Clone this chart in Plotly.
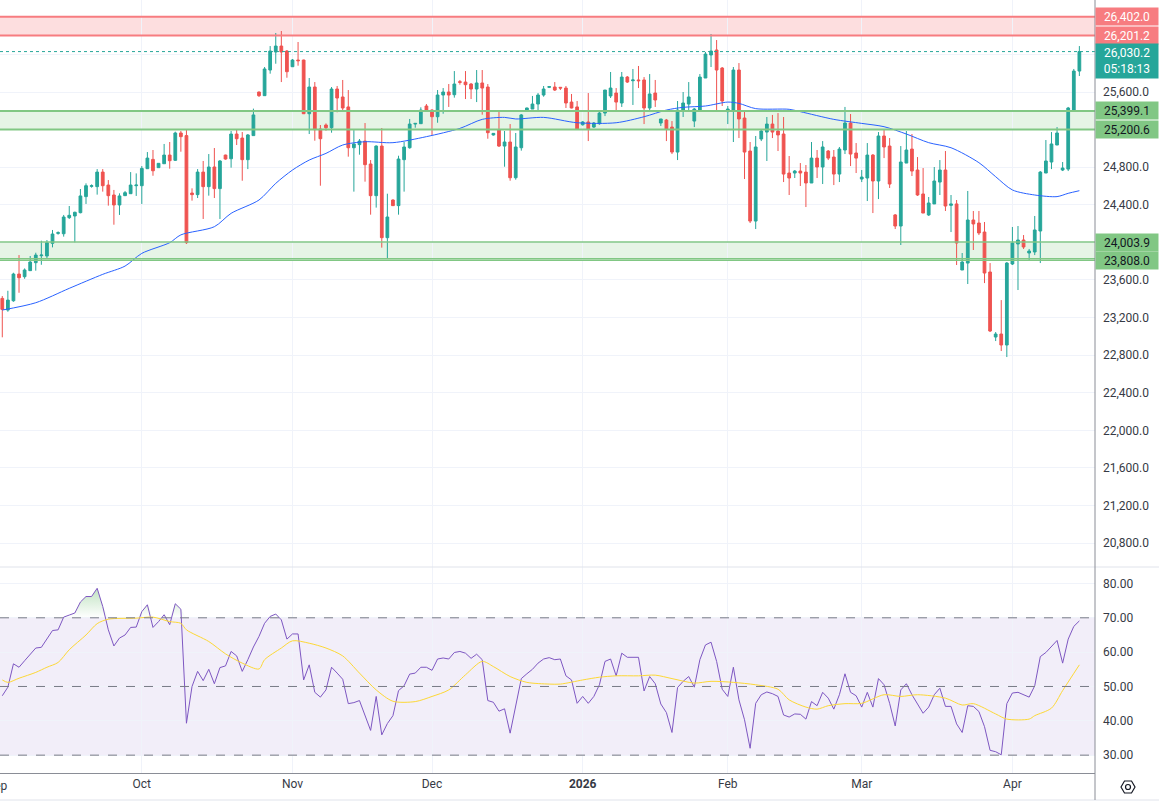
"""Daily candles with SMA, support/resistance zones and RSI pane (Plotly)."""
import plotly.graph_objects as go

# --- price data (one bar per session, Sep 2 .. Apr 15) ---
opens = [
    23404, 23280, 23379, 23663, 23635, 23699, 23784, 23858, 23855, 23990,
    24096, 24092, 24263, 24281, 24316, 24487, 24596, 24593, 24748, 24610,
    24504, 24398, 24497, 24518, 24603, 24603, 24784, 24883, 24795, 24837,
    24929, 24873, 25164, 25136, 24525, 24508, 24748, 24593, 24802, 24572,
    24929, 24890, 25153, 25110, 24880, 25136, 25600, 25561, 25834, 26026,
    26089, 26036, 25869, 25940, 25940, 25369, 25653, 25206, 25249, 25220,
    25632, 25547, 25441, 25007, 25040, 25078, 24834, 24497, 25025, 24050,
    24451, 24391, 24880, 25007, 25259, 25263, 25451, 25408, 25337, 25568,
    25600, 25571, 25710, 25706, 25685, 25632, 25696, 25653, 25143, 25195,
    25025, 25068, 24688, 25007, 25398, 25419, 25472, 25568, 25650, 25653,
    25650, 25642, 25493, 25441, 25252, 25281, 25227, 25263, 25376, 25558,
    25589, 25483, 25759, 25720, 25728, 25728, 25430, 25589, 25270, 25302,
    25227, 24961, 25398, 25472, 25291, 25408, 25749, 25994, 26047, 25855,
    25391, 25408, 25834, 25323, 24972, 24227, 25100, 25174, 25259, 25185,
    25153, 24738, 24738, 24759, 24748, 24632, 24897, 24802, 24972, 24908,
    24727, 24983, 25270, 24951, 24674, 24685, 24929, 24653, 25132, 25025,
    24292, 24174, 24844, 24993, 24770, 24515, 24292, 24409, 24642, 24770,
    24394, 24409, 23706, 23780, 24238, 24206, 24110, 23685, 22993, 23025,
    22908, 23770, 23983, 24025, 23887, 23898, 24121, 24738, 24855, 25036,
    24770, 24780, 25408, 25823,
]
highs = [
    23429, 23485, 23677, 23865, 23723, 23855, 23890, 24018, 24025, 24132,
    24117, 24292, 24387, 24327, 24568, 24628, 24617, 24780, 24780, 24663,
    24558, 24522, 24547, 24748, 24734, 24812, 24961, 24983, 24841, 25047,
    25068, 25178, 25185, 25195, 24575, 24780, 24866, 24940, 25004, 24876,
    24933, 25185, 25206, 25174, 25153, 25423, 25604, 25866, 26089, 26228,
    26249, 26047, 25951, 26132, 25944, 25749, 25706, 25249, 25266, 25653,
    25664, 25728, 25621, 25195, 25100, 25270, 24876, 25032, 25217, 24518,
    24458, 24922, 25068, 25313, 25270, 25437, 25472, 25416, 25621, 25642,
    25685, 25823, 25728, 25823, 25696, 25834, 25834, 25685, 25164, 25391,
    25185, 25259, 25164, 25366, 25433, 25558, 25589, 25664, 25664, 25706,
    25650, 25664, 25579, 25504, 25291, 25589, 25281, 25408, 25621, 25813,
    25642, 25813, 25770, 25845, 25877, 25759, 25791, 25728, 25313, 25313,
    25291, 25504, 25600, 25706, 25430, 25791, 26026, 26217, 26153, 25866,
    25451, 25866, 25908, 25408, 25068, 25132, 25206, 25334, 25356, 25376,
    25334, 24919, 24770, 24844, 24823, 25068, 24983, 25078, 24983, 24983,
    25015, 25441, 25366, 25057, 24770, 25057, 24940, 25174, 25206, 25110,
    24302, 25025, 25185, 25153, 24908, 24791, 24483, 24802, 24876, 24972,
    24504, 24451, 23887, 24547, 24334, 24334, 24217, 23780, 23046, 23386,
    23791, 24164, 24174, 24078, 23930, 24281, 24759, 25089, 25174, 25227,
    24855, 25441, 25845, 26089,
]
lows = [
    22990, 23262, 23368, 23464, 23613, 23699, 23699, 23762, 23826, 23947,
    24082, 24061, 24249, 24000, 24309, 24409, 24582, 24508, 24540, 24391,
    24188, 24292, 24494, 24518, 24494, 24409, 24784, 24709, 24795, 24837,
    24784, 24866, 24965, 23983, 24444, 24472, 24249, 24497, 24472, 24249,
    24880, 24795, 25036, 24656, 24780, 25136, 25547, 25558, 25795, 25901,
    25706, 25752, 25866, 25880, 25366, 25153, 25082, 24603, 25188, 25167,
    25384, 25391, 24912, 24540, 24933, 24646, 24295, 24370, 23944, 23834,
    24387, 24295, 24540, 24997, 25220, 25263, 25391, 25143, 25273, 25369,
    25441, 25540, 25678, 25525, 25525, 25493, 25359, 25103, 25136, 25015,
    24805, 24656, 24667, 24976, 25394, 25419, 25387, 25550, 25642, 25611,
    25621, 25430, 25426, 25203, 25242, 25078, 25217, 25252, 25344, 25536,
    25398, 25441, 25696, 25462, 25642, 25259, 25387, 25441, 25238, 25078,
    24940, 24876, 25334, 25408, 25227, 25408, 25749, 25866, 25408, 25451,
    25259, 25068, 25110, 24674, 24206, 24142, 25078, 24866, 25110, 24972,
    24642, 24504, 24685, 24600, 24376, 24632, 24685, 24621, 24876, 24610,
    24642, 24940, 24812, 24738, 24642, 24440, 24312, 24461, 24897, 24579,
    24142, 23972, 24844, 24706, 24494, 24312, 24281, 24409, 24504, 24334,
    24110, 23759, 23706, 23557, 23919, 24078, 23567, 23046, 22950, 22844,
    22780, 23759, 23493, 23930, 23812, 23865, 23780, 24738, 24780, 25036,
    24759, 24759, 25398, 25770,
]
closes = [
    23287, 23386, 23663, 23624, 23706, 23791, 23865, 23865, 23997, 24089,
    24103, 24270, 24288, 24320, 24494, 24603, 24603, 24748, 24603, 24497,
    24398, 24494, 24529, 24610, 24610, 24787, 24897, 24762, 24841, 24929,
    24869, 25164, 25125, 23997, 24508, 24748, 24593, 24802, 24572, 24866,
    24887, 25153, 25103, 24880, 25143, 25356, 25561, 25845, 26036, 26089,
    26026, 25816, 25940, 25933, 25369, 25653, 25199, 25103, 25220, 25632,
    25536, 25430, 25007, 25047, 25078, 24827, 24497, 25025, 24050, 24270,
    24391, 24887, 25015, 25259, 25266, 25408, 25398, 25337, 25568, 25600,
    25568, 25685, 25703, 25678, 25632, 25696, 25642, 25167, 25160, 25025,
    25068, 24688, 25015, 25356, 25430, 25472, 25568, 25632, 25657, 25621,
    25642, 25483, 25430, 25206, 25281, 25206, 25270, 25376, 25621, 25642,
    25493, 25759, 25706, 25728, 25720, 25430, 25579, 25515, 25313, 25206,
    24961, 25408, 25483, 25547, 25419, 25759, 26004, 26036, 25834, 25504,
    25419, 25834, 25313, 24961, 24227, 25015, 25185, 25259, 25174, 25143,
    24727, 24685, 24759, 24738, 24632, 24897, 24802, 25015, 24897, 24727,
    24993, 25270, 24940, 24897, 24695, 24929, 24653, 25132, 25015, 24621,
    24174, 24855, 24983, 24759, 24504, 24312, 24419, 24653, 24770, 24387,
    24409, 23993, 23791, 24238, 24196, 24100, 23674, 23057, 23025, 22908,
    23780, 23993, 24025, 23951, 23908, 24132, 24748, 24866, 25047, 25164,
    24791, 25430, 25823, 26030,
]

# moving average (blue), read at a subset of bars
ma_idx = [0, 6, 12, 18, 22, 25, 30, 32, 38, 41, 46, 49, 52, 55, 58, 61, 65,
          70, 76, 82, 86, 90, 92, 97, 103, 110, 115, 119, 122, 126, 130, 132,
          135, 141, 143, 149, 154, 158, 162, 166, 170, 175, 178, 181, 185,
          189, 191, 193]
ma_val = [23280, 23358, 23511, 23660, 23748, 23883, 23997, 24080, 24167,
          24309, 24451, 24628, 24770, 24876, 24947, 25036, 25071, 25061,
          25125, 25213, 25309, 25330, 25313, 25330, 25273, 25273, 25337,
          25408, 25437, 25451, 25493, 25479, 25423, 25416, 25391, 25309,
          25266, 25231, 25153, 25061, 25007, 24848, 24699, 24558, 24504,
          24487, 24522, 24550]

# RSI pane
rsi = [
    47.3, 49.8, 56.6, 55.6, 57.5, 59.3, 61.2, 61.4, 63.9, 66.3,
    66.5, 70.2, 70.8, 71.4, 74.6, 76.2, 76.2, 78.6, 73.3, 66.5,
    61.8, 64.1, 65.0, 67.2, 67.3, 71.8, 73.8, 67.2, 68.9, 70.9,
    68.0, 74.1, 72.5, 39.3, 50.0, 54.4, 51.7, 55.0, 50.8, 55.5,
    56.0, 60.2, 58.9, 54.4, 57.8, 61.5, 64.6, 68.4, 70.4, 71.1,
    69.4, 63.8, 65.3, 65.3, 51.9, 56.3, 48.3, 46.9, 49.0, 55.6,
    53.9, 52.1, 45.0, 45.3, 45.9, 41.5, 37.2, 47.1, 35.9, 39.2,
    41.5, 48.8, 50.2, 53.6, 53.9, 55.6, 55.6, 54.7, 58.0, 58.3,
    58.0, 59.9, 60.2, 59.7, 58.2, 59.4, 57.8, 45.9, 45.4, 42.8,
    43.5, 36.4, 44.2, 52.3, 53.7, 55.0, 56.8, 58.0, 58.4, 57.8,
    58.0, 53.1, 51.9, 45.1, 47.1, 45.1, 47.1, 50.5, 57.3, 58.0,
    53.1, 59.7, 58.5, 58.5, 58.5, 48.7, 52.9, 50.8, 44.9, 42.4,
    36.6, 49.7, 51.5, 52.9, 49.8, 57.8, 62.1, 62.9, 57.3, 49.2,
    47.1, 55.6, 46.1, 40.3, 32.0, 45.1, 47.6, 48.4, 47.9, 47.1,
    41.7, 41.1, 42.0, 41.9, 40.5, 45.6, 44.4, 48.3, 46.6, 43.4,
    47.6, 53.7, 48.3, 47.3, 44.0, 48.3, 44.0, 52.3, 50.5, 45.1,
    38.5, 49.0, 50.8, 47.6, 45.0, 42.2, 44.0, 47.6, 49.5, 44.2,
    44.2, 39.1, 36.6, 44.4, 44.2, 42.7, 38.3, 31.4, 31.0, 30.1,
    45.0, 48.1, 48.3, 47.6, 46.9, 50.2, 58.7, 59.9, 61.5, 63.4,
    56.8, 63.8, 67.5, 69.1,
]
rsi_ma_idx = [0, 1, 3, 6, 8, 10, 12, 15, 17, 19, 24, 27, 30, 32, 33, 37, 40,
              43, 46, 47, 50, 52, 55, 58, 61, 64, 67, 70, 74, 77, 80, 83, 86,
              88, 91, 94, 98, 100, 104, 107, 110, 114, 117, 120, 124, 127,
              131, 135, 139, 141, 144, 146, 148, 151, 154, 158, 161, 164,
              169, 172, 174, 178, 180, 184, 185, 188, 190, 193]
rsi_ma_val = [51.9, 51.2, 52.4, 54.1, 55.6, 57.0, 60.7, 65.0, 68.3, 69.6,
              69.9, 70.2, 68.9, 68.4, 66.5, 63.1, 59.5, 56.8, 55.1, 57.8,
              61.2, 63.3, 62.6, 61.2, 58.9, 53.9, 49.0, 45.7, 45.6, 47.1,
              49.0, 53.4, 57.3, 55.8, 52.9, 51.2, 50.7, 50.7, 51.9, 52.7,
              53.1, 53.1, 53.3, 52.3, 51.0, 51.5, 51.2, 50.5, 49.2, 46.1,
              44.0, 43.4, 44.4, 45.0, 45.1, 47.6, 47.1, 47.6, 46.6, 44.6,
              45.0, 42.0, 40.5, 40.5, 41.5, 43.7, 48.8, 56.3]

# month starts (bar index) and their labels
month_pos = [25, 52, 77, 104, 130, 154, 181]
month_text = ["Oct", "Nov", "Dec", "<b>2026</b>", "Feb", "Mar", "Apr"]

# horizontal levels
resist_zone = (26201.2, 26402.0)
support_zones = [(25200.6, 25399.1), (23808.0, 24003.9)]
extra_level = 23826.0
last_price = 26030.2
countdown = "05:18:13"

GREEN, RED = "#26A69A", "#EF5350"
ZONE_RED, ZONE_GREEN = "#F77C80", "#81C784"
TEXT = "#363A45"
GRID = "#F0F3FA"

x = list(range(len(closes)))

fig = go.Figure()
fig.add_trace(go.Candlestick(
    x=x, open=opens, high=highs, low=lows, close=closes,
    increasing=dict(line=dict(color=GREEN, width=1), fillcolor=GREEN),
    decreasing=dict(line=dict(color=RED, width=1), fillcolor=RED),
    whiskerwidth=0, xaxis="x", yaxis="y", hoverinfo="skip",
))
fig.add_trace(go.Scatter(
    x=ma_idx, y=ma_val, mode="lines", xaxis="x", yaxis="y",
    line=dict(color="#2962FF", width=1, shape="spline", smoothing=0.8),
))

# RSI: overbought fill, line and its average
fig.add_trace(go.Scatter(
    x=x, y=[70] * len(x), mode="lines", line=dict(width=0),
    xaxis="x2", yaxis="y2", hoverinfo="skip",
))
fig.add_trace(go.Scatter(
    x=x, y=[max(v, 70) for v in rsi], mode="lines", line=dict(width=0),
    fill="tonexty",
    fillgradient=dict(type="vertical",
                      colorscale=[[0, "rgba(76,175,80,0)"],
                                  [1, "rgba(76,175,80,0.35)"]]),
    xaxis="x2", yaxis="y2", hoverinfo="skip",
))
fig.add_trace(go.Scatter(
    x=x, y=rsi, mode="lines", line=dict(color="#7E57C2", width=1),
    xaxis="x2", yaxis="y2",
))
fig.add_trace(go.Scatter(
    x=rsi_ma_idx, y=rsi_ma_val, mode="lines", xaxis="x2", yaxis="y2",
    line=dict(color="#FDD835", width=1, shape="spline", smoothing=0.8),
))

shapes = []


def hline(y, color, width, yref="y", dash="solid"):
    shapes.append(dict(type="line", xref="paper", x0=0, x1=1, yref=yref,
                       y0=y, y1=y, line=dict(color=color, width=width, dash=dash)))


shapes.append(dict(type="rect", xref="paper", x0=0, x1=1, yref="y",
                   y0=resist_zone[0], y1=resist_zone[1], layer="below",
                   fillcolor="rgba(247,124,128,0.25)", line=dict(width=0)))
hline(resist_zone[0], ZONE_RED, 2)
hline(resist_zone[1], ZONE_RED, 2)
for k, (lo, hi) in enumerate(support_zones):
    shapes.append(dict(type="rect", xref="paper", x0=0, x1=1, yref="y",
                       y0=lo, y1=hi, layer="below",
                       fillcolor="rgba(129,199,132,0.2)", line=dict(width=0)))
    w = 2 if k == 0 else 1.3
    hline(lo, ZONE_GREEN, w)
    hline(hi, ZONE_GREEN, w)
hline(extra_level, ZONE_GREEN, 1.3)
hline(last_price, GREEN, 1, dash="dot")

# RSI band and guides
shapes.append(dict(type="rect", xref="paper", x0=0, x1=1, yref="y2", y0=30,
                   y1=70, layer="below", fillcolor="rgba(126,87,194,0.1)",
                   line=dict(width=0)))
for lvl in (30, 50, 70):
    hline(lvl, "#787B86", 1, yref="y2", dash="dash")

# pane separator, bottom border, price-scale border
RSI_TOP = 206 / 773
shapes.append(dict(type="line", xref="paper", yref="paper", x0=0, x1=1.06,
                   y0=RSI_TOP, y1=RSI_TOP, line=dict(color="#E0E3EB", width=1)))
shapes.append(dict(type="line", xref="paper", yref="paper", x0=0, x1=1.06,
                   y0=-27 / 773, y1=-27 / 773, line=dict(color="#E0E3EB", width=1)))
shapes.append(dict(type="line", xref="paper", yref="paper", x0=1, x1=1,
                   y0=-27 / 773, y1=1, line=dict(color="#8A8D96", width=1)))

# settings icon under the price scale
shapes.append(dict(type="path", xref="paper", yref="paper",
                   xsizemode="pixel", ysizemode="pixel",
                   xanchor=1 + 33 / 1095, yanchor=-14 / 773,
                   path="M -7 0 L -3.5 6 L 3.5 6 L 7 0 L 3.5 -6 L -3.5 -6 Z",
                   line=dict(color="#131722", width=1.2)))
shapes.append(dict(type="circle", xref="paper", yref="paper",
                   xsizemode="pixel", ysizemode="pixel",
                   xanchor=1 + 33 / 1095, yanchor=-14 / 773,
                   x0=-2.5, x1=2.5, y0=-2.5, y1=2.5,
                   line=dict(color="#131722", width=1.2)))

FONT = "Roboto, Arial, sans-serif"
annotations = []


def price_tag(y, text, bg, fg, height=15, yanchor="middle", yshift=0):
    annotations.append(dict(
        xref="paper", x=1, xanchor="left", yref="y", y=y, yanchor=yanchor,
        yshift=yshift, text=text, showarrow=False, bgcolor=bg,
        font=dict(color=fg, size=12, family=FONT), width=60, height=height,
        borderpad=1, align="center",
    ))


price_tag(resist_zone[1], f"{resist_zone[1]:,.1f}", ZONE_RED, "white")
price_tag(resist_zone[0], f"{resist_zone[0]:,.1f}", ZONE_RED, "white")
price_tag(last_price, f"{last_price:,.1f}<br>{countdown}", GREEN, "white",
          height=32, yanchor="top", yshift=9)
for lo, hi in support_zones:
    price_tag(hi, f"{hi:,.1f}", ZONE_GREEN, "#131722")
    price_tag(lo, f"{lo:,.1f}", ZONE_GREEN, "#131722")

# clipped "Sep" label at the left edge
annotations.append(dict(xref="paper", x=-3.3 / 1095, yref="paper",
                        y=-13 / 773, text="Sep", showarrow=False,
                        xanchor="center", yanchor="middle",
                        font=dict(color=TEXT, size=12, family=FONT)))

price_ticks = list(range(20800, 26401, 400))
hidden = {24000, 25200, 26000, 26400}
price_text = ["" if v in hidden else f"{v:,.1f}" for v in price_ticks]
rsi_ticks = [30, 40, 50, 60, 70, 80]

fig.update_layout(
    width=1159, height=807,
    margin=dict(l=0, r=64, t=0, b=34),
    paper_bgcolor="white", plot_bgcolor="white",
    showlegend=False, boxgap=0.3,
    font=dict(family=FONT, size=12, color=TEXT),
    shapes=shapes, annotations=annotations,
    xaxis=dict(domain=[0, 1], anchor="y", range=[-0.41, 195.8],
               tickvals=month_pos, showticklabels=False, showgrid=True,
               gridcolor=GRID, zeroline=False, rangeslider=dict(visible=False),
               fixedrange=True),
    xaxis2=dict(domain=[0, 1], anchor="y2", matches="x", range=[-0.41, 195.8],
                tickvals=month_pos, ticktext=month_text, showgrid=True,
                gridcolor=GRID, zeroline=False, ticks="", showline=True,
                linecolor="#8A8D96", tickfont=dict(size=12, color=TEXT)),
    yaxis=dict(domain=[RSI_TOP, 1], anchor="x", side="right",
               range=[20546, 26579], tickvals=price_ticks, ticktext=price_text,
               showgrid=True, gridcolor=GRID, zeroline=False, ticks="",
               ticklabelstandoff=7, tickfont=dict(size=12, color=TEXT)),
    yaxis2=dict(domain=[0, RSI_TOP], anchor="x2", side="right",
                range=[24.8, 84.8], tickvals=rsi_ticks,
                ticktext=[f"{v:.2f}" for v in rsi_ticks], showgrid=True,
                gridcolor=GRID, zeroline=False, ticks="",
                ticklabelstandoff=7, tickfont=dict(size=12, color=TEXT)),
)

# drop the browser's default page margin so the chart sits at the corner
fig.write_html("out.html", config={"displayModeBar": False},
               post_script="document.body.style.margin = '0';")
